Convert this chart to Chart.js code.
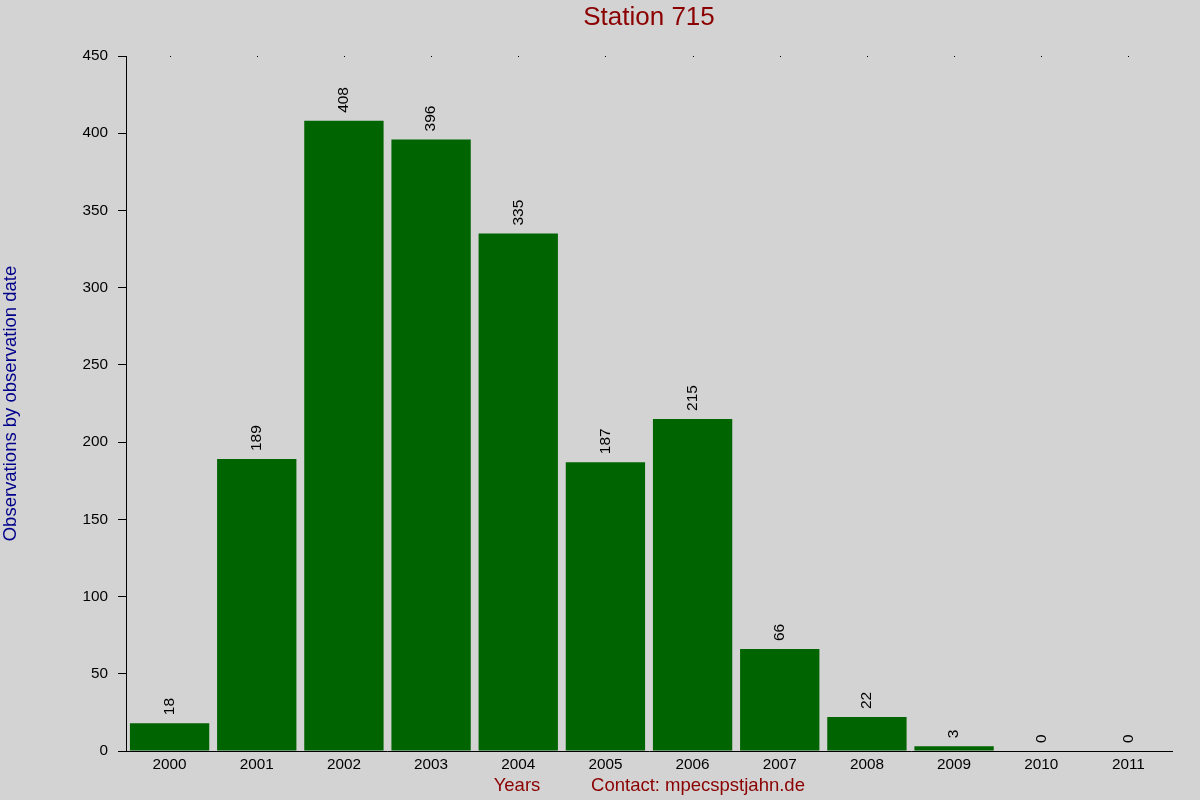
<!DOCTYPE html>
<html>
<head>
<meta charset="utf-8">
<script src="https://cdn.jsdelivr.net/npm/chart.js@4.4.1/dist/chart.umd.min.js"></script>
<style>
  body { margin: 0; background: #d3d3d3; }
  canvas { display: block; }
</style>
</head>
<body>
<canvas id="chart" width="1200" height="800"></canvas>
<script>
const years = ["2000","2001","2002","2003","2004","2005","2006","2007","2008","2009","2010","2011"];
const observations = [18, 189, 408, 396, 335, 187, 215, 66, 22, 3, 0, 0];
const yTicks = [0, 50, 100, 150, 200, 250, 300, 350, 400, 450];

const FONT = "'Liberation Sans', Arial, sans-serif";

// background + titles + top dots + value labels
const decorations = {
    id: 'decorations',
    beforeDraw(chart) {
        const ctx = chart.ctx;
        ctx.save();
        ctx.fillStyle = '#d3d3d3';
        ctx.fillRect(0, 0, chart.width, chart.height);
        ctx.restore();
    },
    afterDraw(chart) {
        const ctx = chart.ctx;
        const area = chart.chartArea;
        const x = chart.scales.x;
        const y = chart.scales.y;
        ctx.save();

        // title
        ctx.fillStyle = '#8b0000';
        ctx.font = '26px ' + FONT;
        ctx.textAlign = 'center';
        ctx.textBaseline = 'middle';
        ctx.fillText('Station 715', (area.left + area.right) / 2, 18);

        // bottom captions
        ctx.font = '18.5px ' + FONT;
        ctx.fillText('Years', 517, 786);
        ctx.fillText('Contact: mpecspstjahn.de', 698, 786);

        // y title
        ctx.save();
        ctx.fillStyle = '#00008b';
        ctx.translate(11, (area.top + area.bottom) / 2);
        ctx.rotate(-Math.PI / 2);
        ctx.fillText('Observations by observation date', 0, 0);
        ctx.restore();

        // small dots along the top
        ctx.fillStyle = '#000';
        years.forEach((yr, i) => {
            const px = Math.round(x.getPixelForValue(i));
            ctx.fillRect(px, area.top, 1, 1);
        });

        // value labels
        ctx.font = '15.5px ' + FONT;
        ctx.textAlign = 'left';
        ctx.textBaseline = 'middle';
        observations.forEach((v, i) => {
            const px = x.getPixelForValue(i);
            const py = y.getPixelForValue(v) - 8;
            ctx.save();
            ctx.translate(px, py);
            ctx.rotate(-Math.PI / 2);
            ctx.fillText(String(v), 0, 0);
            ctx.restore();
        });
        ctx.restore();
    }
};

new Chart(document.getElementById('chart').getContext('2d'), {
    type: 'bar',
    data: {
        labels: years,
        datasets: [{
            data: observations,
            backgroundColor: '#006400',
            borderWidth: 0,
            barPercentage: 0.91,
            categoryPercentage: 1.0
        }]
    },
    options: {
        responsive: false,
        animation: false,
        devicePixelRatio: 1,
        layout: { padding: { left: 0, right: 28, top: 56, bottom: 0 } },
        plugins: {
            legend: { display: false },
            tooltip: { enabled: false }
        },
        scales: {
            x: {
                afterFit(scale) { scale.height = 49; },
                grid: { display: true, drawOnChartArea: false, drawTicks: false },
                border: { display: true, color: '#000', width: 1 },
                ticks: { color: '#000', font: { family: FONT, size: 15.3 }, padding: 5, maxRotation: 0 }
            },
            y: {
                min: 0,
                max: 450,
                afterFit(scale) { scale.width = 126; },
                afterBuildTicks(scale) { scale.ticks = yTicks.map(v => ({ value: v })); },
                grid: { display: true, drawOnChartArea: false, drawTicks: true, tickLength: 8, color: '#000' },
                border: { display: true, color: '#000', width: 1 },
                ticks: { color: '#000', font: { family: FONT, size: 15.3 }, padding: 10 }
            }
        }
    },
    plugins: [decorations]
});
</script>
</body>
</html>
